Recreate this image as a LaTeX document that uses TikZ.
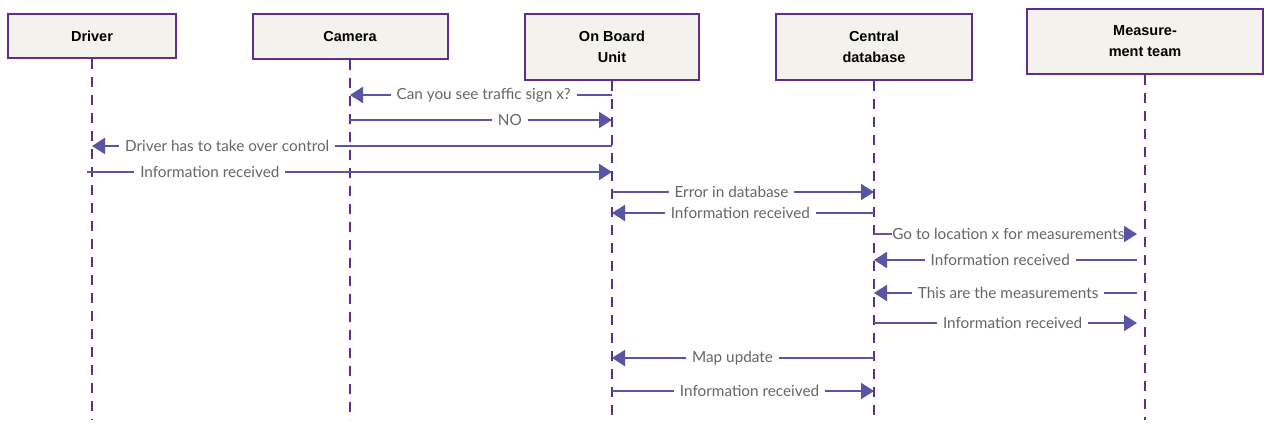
\documentclass[tikz,border=0pt]{standalone}
\usepackage{fontspec}
\setmainfont{Lato}
\newfontfamily\headfont{Liberation Sans}
\usetikzlibrary{arrows.meta}

\definecolor{boxline}{HTML}{5E2D91}
\definecolor{boxfill}{HTML}{F4F2EC}
\definecolor{msgcol}{HTML}{5A54A4}
\definecolor{txtcol}{HTML}{666666}

\tikzset{
  actor/.style={draw=boxline, fill=boxfill, line width=2pt, inner sep=0pt,
    align=center, font=\headfont\bfseries\fontsize{14.5}{21}\selectfont},
  lifeline/.style={boxline, line width=2pt, dash pattern=on 10pt off 8pt},
  msg/.style={msgcol, line width=2pt, -{Triangle[length=13pt,width=16pt]}},
  lbl/.style={fill=white, text=txtcol, inner xsep=6pt, inner ysep=1pt,
    font=\fontsize{15.3}{17}\selectfont}
}

\begin{document}
\begin{tikzpicture}[x=1pt,y=-1pt]
    \fill[white] (0,0) rectangle (1264,425);
    \useasboundingbox (0,0) rectangle (1264,425);

    % participants
    \node[actor, minimum width=168pt, minimum height=44pt] (driver) at (92,36) {Driver};
    \node[actor, minimum width=195pt, minimum height=45pt] (camera) at (350,36.5) {Camera};
    \node[actor, minimum width=174pt, minimum height=66pt] (obu) at (612,47) {On Board\\Unit};
    \node[actor, minimum width=196pt, minimum height=66pt] (cdb) at (874,47) {Central\\database};
    \node[actor, minimum width=236pt, minimum height=65pt] (mt) at (1145,41.5) {Measure-\\ment team};

    % lifelines
    \draw[lifeline] (driver.south) -- (driver |- 0,420);
    \draw[lifeline] (camera.south) -- (camera |- 0,420);
    \draw[lifeline] (obu.south) -- (obu |- 0,420);
    \draw[lifeline] (cdb.south) -- (cdb |- 0,420);
    \draw[lifeline] (mt.south) -- (mt |- 0,420);

    % messages
    \draw[msg] (obu |- 0,95) -- node[lbl, pos=0.49] {Can you see traffic sign x?} (camera |- 0,95);
    \draw[msg] (camera |- 0,120) -- node[lbl, pos=0.61] {NO} (obu |- 0,120);
    \draw[msg] (obu |- 0,146) -- node[lbl, pos=0.74] {Driver has to take over control} (driver |- 0,146);
    \draw[msg] ([xshift=-5pt]driver |- 0,172) -- node[lbl, pos=0.234] {Information received} (obu |- 0,172);
    \draw[msg] (obu |- 0,192) -- node[lbl, pos=0.456] {Error in database} (cdb |- 0,192);
    \draw[msg] (cdb |- 0,213) -- node[lbl, pos=0.51] {Information received} (obu |- 0,213);
    \draw[msg] (cdb |- 0,234) -- node[lbl, pos=0.511, inner xsep=0pt] {Go to location x for measurements} ([xshift=-8pt]mt |- 0,234);
    \draw[msg] ([xshift=-8pt]mt |- 0,260) -- node[lbl, pos=0.52] {Information received} (cdb |- 0,260);
    \draw[msg] ([xshift=-8pt]mt |- 0,293) -- node[lbl, pos=0.49] {This are the measurements} (cdb |- 0,293);
    \draw[msg] (cdb |- 0,323) -- node[lbl, pos=0.527] {Information received} ([xshift=-8pt]mt |- 0,323);
    \draw[msg] (cdb |- 0,358) -- node[lbl, pos=0.54] {Map update} (obu |- 0,358);
    \draw[msg] (obu |- 0,391) -- node[lbl, pos=0.525] {Information received} (cdb |- 0,391);
\end{tikzpicture}
\end{document}
